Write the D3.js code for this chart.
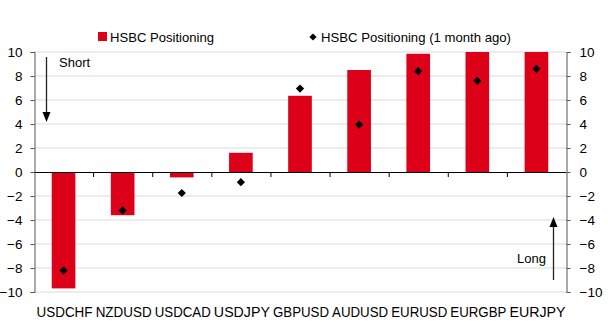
<!DOCTYPE html>
<html>
<head>
<meta charset="utf-8">
<script src="https://cdn.jsdelivr.net/npm/d3@7"></script>
<style>
  body { margin: 0; background: #fff; }
  svg { display: block; font-family: "Liberation Sans", Arial, sans-serif; }
</style>
</head>
<body>
<svg id="svg"></svg>
<script>
// chart data
const pairs = ["USDCHF", "NZDUSD", "USDCAD", "USDJPY", "GBPUSD", "AUDUSD", "EURUSD", "EURGBP", "EURJPY"];
const positioning = [-9.7, -3.6, -0.45, 1.6, 6.35, 8.5, 9.85, 10, 10];
const monthAgo = [-8.2, -3.2, -1.75, -0.85, 6.95, 3.95, 8.4, 7.6, 8.6];
const yTicks = [-10, -8, -6, -4, -2, 0, 2, 4, 6, 8, 10];

const width = 608;
const height = 333;
const red = "#dc0019";

let svg = d3.select("#svg").attr("width", width).attr("height", height);

const left = 34, right = 566;
let xScale = d3.scaleBand().domain(pairs).range([left, right]).paddingInner(0.6).paddingOuter(0.3);
let yScale = d3.scaleLinear().domain([-10, 10]).range([292, 52]);

// gridlines
svg.append("g").selectAll("line")
    .data(yTicks.filter(d => d !== 0))
    .enter().append("line")
    .attr("x1", left).attr("x2", right)
    .attr("y1", d => yScale(d)).attr("y2", d => yScale(d))
    .attr("stroke", "#d9d9d9").attr("stroke-width", 1);

// bars
svg.append("g").selectAll("rect")
    .data(pairs)
    .enter().append("rect")
    .attr("x", d => xScale(d))
    .attr("width", xScale.bandwidth())
    .attr("y", (d, i) => yScale(Math.max(0, positioning[i])))
    .attr("height", (d, i) => Math.abs(yScale(positioning[i]) - yScale(0)))
    .attr("fill", red);

// zero line with category ticks
svg.append("line")
    .attr("x1", left).attr("x2", right)
    .attr("y1", yScale(0) + 0.5).attr("y2", yScale(0) + 0.5)
    .attr("stroke", "#000");
svg.append("g").selectAll("line")
    .data(d3.range(1, pairs.length))
    .enter().append("line")
    .attr("x1", i => left + i * (right - left) / pairs.length + 0.5)
    .attr("x2", i => left + i * (right - left) / pairs.length + 0.5)
    .attr("y1", yScale(0)).attr("y2", yScale(0) + 5)
    .attr("stroke", "#000");

// left and right axes
let yAxisL = d3.axisLeft(yScale).tickValues(yTicks).tickSize(4).tickPadding(8);
let yAxisR = d3.axisRight(yScale).tickValues(yTicks).tickSize(4).tickPadding(9);

function styleAxis(g) {
    g.select(".domain").attr("stroke", "#555");
    g.selectAll(".tick line").attr("stroke", "#555");
    g.selectAll(".tick text").attr("fill", "#000").style("font-size", "13.5px")
        .style("font-family", "'Liberation Sans', Arial, sans-serif");
}

svg.append("g").attr("transform", `translate(${left + 0.5},0)`).call(yAxisL).call(styleAxis);
svg.append("g").attr("transform", `translate(${right + 0.5},0)`).call(yAxisR).call(styleAxis);

// diamonds for last month
const diamond = d3.symbol().type(d3.symbolSquare).size(34);
svg.append("g").selectAll("path")
    .data(pairs)
    .enter().append("path")
    .attr("d", diamond)
    .attr("transform", (d, i) => `translate(${xScale(d) + xScale.bandwidth() / 2},${yScale(monthAgo[i])}) rotate(45)`)
    .attr("fill", "#000");

// category labels
svg.append("g").selectAll("text")
    .data(pairs)
    .enter().append("text")
    .attr("x", d => xScale(d) + xScale.bandwidth() / 2 + 1)
    .attr("y", 317)
    .attr("text-anchor", "middle")
    .style("font-size", "14px")
    .attr("textLength", 56)
    .attr("lengthAdjust", "spacingAndGlyphs")
    .text(d => d);

// legend
svg.append("rect").attr("x", 98).attr("y", 32).attr("width", 9).attr("height", 9).attr("fill", red);
svg.append("text").attr("x", 110).attr("y", 41.5).style("font-size", "13.5px")
    .attr("textLength", 104).attr("lengthAdjust", "spacingAndGlyphs").text("HSBC Positioning");
svg.append("path").attr("d", d3.symbol().type(d3.symbolSquare).size(26))
    .attr("transform", "translate(313,37) rotate(45)").attr("fill", "#000");
svg.append("text").attr("x", 321).attr("y", 41.5).style("font-size", "13.5px")
    .attr("textLength", 190).attr("lengthAdjust", "spacingAndGlyphs").text("HSBC Positioning (1 month ago)");

// short / long arrows
function arrow(x, y1, y2) {
    const dir = y2 > y1 ? 1 : -1;
    svg.append("line").attr("x1", x).attr("x2", x).attr("y1", y1).attr("y2", y2 - dir * 8)
        .attr("stroke", "#222").attr("stroke-width", 1.3);
    svg.append("path")
        .attr("d", `M${x - 4},${y2 - dir * 10}L${x + 4},${y2 - dir * 10}L${x},${y2}Z`)
        .attr("fill", "#000");
}
arrow(46.5, 57, 122);
svg.append("text").attr("x", 59).attr("y", 67).style("font-size", "13px").text("Short");
arrow(553.5, 280, 217);
svg.append("text").attr("x", 517).attr("y", 263).style("font-size", "13px").text("Long");
</script>
</body>
</html>
